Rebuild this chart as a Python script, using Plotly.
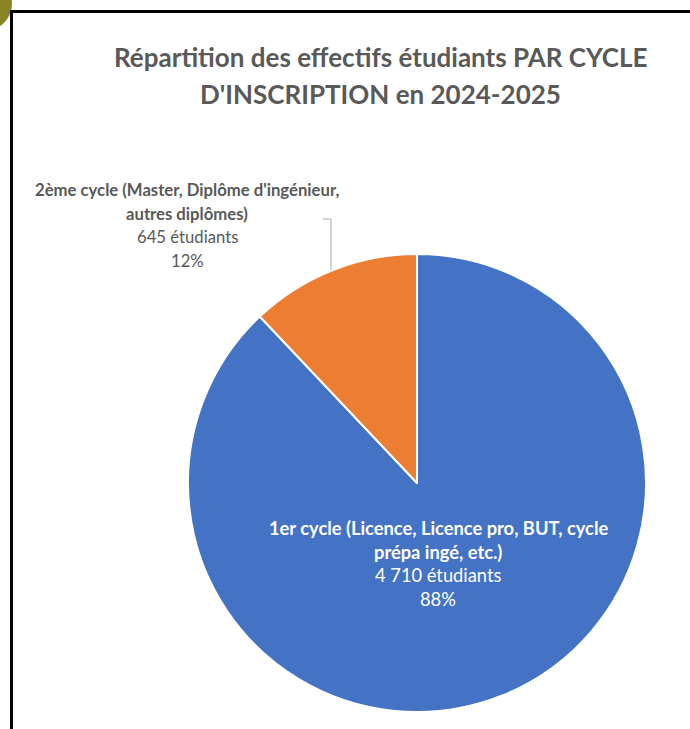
import plotly.graph_objects as go

W, H = 690, 729
OFF = 0  # page body margin is removed by the post script

# ---- data ----
categories = ["1er cycle", "2ème cycle"]
label_lines = [
    ["1er cycle (Licence, Licence pro, BUT, cycle", "prépa ingé, etc.)"],
    ["2ème cycle (Master, Diplôme d'ingénieur,", "autres diplômes)"],
]
values = [4710, 645]
colors = ["#4472C4", "#ED7D31"]
title_lines = ["Répartition des effectifs étudiants PAR CYCLE", "D'INSCRIPTION en 2024-2025"]

total = sum(values)


def px(x):
    return (x - OFF) / W


def py(y):
    return 1 - (y - OFF) / H


def fmt(n):
    return f"{n:,}".replace(",", " ")


FONT = "Lato"
GRAY = "#595959"

fig = go.Figure(go.Pie(
    labels=categories,
    values=values,
    marker=dict(colors=colors, line=dict(color="white", width=2)),
    sort=False,
    direction="clockwise",
    rotation=0,
    textinfo="none",
    hoverinfo="label+value+percent",
    showlegend=False,
    domain=dict(x=[px(188), px(646)], y=[py(712), py(254)]),
))

ann = []
# title
for i, t in enumerate(title_lines):
    ann.append(dict(text=f"<b>{t}</b>", x=px(380), y=py(57 + 37 * i), xref="paper", yref="paper",
                    showarrow=False, xanchor="center", yanchor="middle",
                    font=dict(family=FONT, size=26, color=GRAY)))

# label positions (label block centre x, first-line y, colour, font size)
label_pos = [(438, 528, "white", 18.3), (187, 190, GRAY, 16.7)]
for k in range(len(values)):
    cx, y0, col, fs = label_pos[k]
    pct = round(100 * values[k] / total)
    lines = [f"<b>{l}</b>" for l in label_lines[k]] + [f"{fmt(values[k])} étudiants", f"{pct}%"]
    for j, l in enumerate(lines):
        ann.append(dict(text=l, x=px(cx), y=py(y0 + 23.5 * j), xref="paper", yref="paper",
                        showarrow=False, xanchor="center", yanchor="middle",
                        font=dict(family=FONT, size=fs, color=col)))

shapes = [
    # corner decoration
    dict(type="circle", xref="paper", yref="paper", x0=px(-40), x1=px(12), y0=py(-22), y1=py(30),
         fillcolor="#8A8424", line=dict(width=0)),
    # frame
    dict(type="line", xref="paper", yref="paper", x0=px(10), x1=1.02, y0=py(11.5), y1=py(11.5),
         line=dict(color="black", width=3)),
    dict(type="line", xref="paper", yref="paper", x0=px(11.5), x1=px(11.5), y0=py(10), y1=-0.02,
         line=dict(color="black", width=3)),
    # leader line
    dict(type="path", xref="paper", yref="paper",
         path=f"M {px(323)} {py(219)} L {px(331)} {py(219)} L {px(331)} {py(270)}",
         line=dict(color="#A6A6A6", width=1)),
]

fig.update_layout(
    width=W, height=H,
    margin=dict(l=0, r=0, t=0, b=0),
    paper_bgcolor="white",
    plot_bgcolor="white",
    annotations=ann,
    shapes=shapes,
)

fig.write_html("out.html", config={"displayModeBar": False},
               post_script="document.body.style.margin='0';")
